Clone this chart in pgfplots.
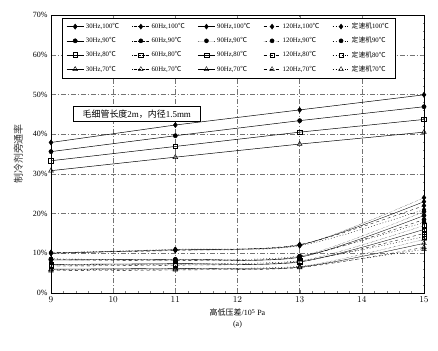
\documentclass[border=0pt]{standalone}
\usepackage{pgfplots}
\pgfplotsset{compat=1.18}
\usepackage{fontspec}
\setmainfont{Liberation Serif}
\newfontfamily\cjk{Noto Sans CJK SC}
\pgfplotsset{
  m100/.style={mark=diamond*, mark size=2.6pt, mark options={solid, fill=black}},
  m90/.style={mark=*, mark size=2.1pt, mark options={solid, fill=black}},
  m80/.style={mark=square, mark size=2.3pt, mark options={solid, fill=white}},
  m70/.style={mark=triangle, mark size=2.7pt, mark options={solid, fill=white}},
  f30/.style={black, line width=0.5pt, solid},
  f60/.style={black, line width=0.35pt, densely dotted, smooth, tension=0.45},
  f90/.style={black, line width=0.35pt, solid, smooth, tension=0.45},
  f120/.style={black, line width=0.35pt, dashed, smooth, tension=0.45},
  fC/.style={black, line width=0.35pt, dash pattern=on 1pt off 2pt, smooth, tension=0.45},
}
\begin{document}
\begin{tikzpicture}
\begin{axis}[
  scale only axis,
  width=373bp, height=278bp,
  xmin=9, xmax=15, ymin=0, ymax=70,
  xtick={9,10,...,15},
  ytick={0,10,...,70},
  yticklabels={0\%,10\%,20\%,30\%,40\%,50\%,60\%,70\%},
  minor x tick num=4, minor y tick num=4,
  tick align=inside,
  major tick length=3pt, minor tick length=1.5pt,
  xticklabel style={font=\small},
  yticklabel style={font=\footnotesize},
  grid=major,
  major grid style={black!55, line width=0.35pt, dash pattern=on 5pt off 2pt on 1pt off 2pt},
  axis line style={black, line width=0.5pt},
  ylabel={\cjk 制冷剂旁通率},
  ylabel style={font=\normalsize, black!80, yshift=3bp},
  xlabel={{\cjk 高低压差}/10\textsuperscript{5} Pa\\[1pt](a)},
  xlabel style={align=center, font=\footnotesize},
  legend columns=5,
  legend cell align=left,
  legend style={at={(0.03,0.99)}, anchor=north west, draw=black, line width=0.5pt,
    fill=white, font=\fontsize{6.8}{7.5}\selectfont, row sep=3pt,
    /tikz/every even column/.append style={column sep=11pt},
    inner xsep=4pt, inner ysep=3pt},
  legend image code/.code={
    \draw[mark repeat=2,mark phase=2] plot coordinates {(0cm,0cm) (0.3cm,0cm) (0.6cm,0cm)};
  },
]
% ---- 100 C row
\addplot[f30, m100] coordinates {(9,37.9) (11,42.3) (13,46.1) (15,49.9)};
\addlegendentry{30Hz,100{\cjk ℃}}
\addplot[f60, m100] coordinates {(9,10.0) (11,10.8) (13,12.0) (15,24.0)};
\addlegendentry{60Hz,100{\cjk ℃}}
\addplot[f90, m100] coordinates {(9,10.0) (11,10.9) (13,12.1) (15,23.0)};
\addlegendentry{90Hz,100{\cjk ℃}}
\addplot[f120, m100] coordinates {(9,10.2) (11,10.7) (13,12.2) (15,22.0)};
\addlegendentry{120Hz,100{\cjk ℃}}
\addplot[fC, m100] coordinates {(9,10.1) (11,11.0) (13,11.9) (15,21.0)};
\addlegendentry{{\cjk 定速机}100{\cjk ℃}}
% ---- 90 C row
\addplot[f30, m90] coordinates {(9,35.6) (11,39.6) (13,43.4) (15,46.9)};
\addlegendentry{30Hz,90{\cjk ℃}}
\addplot[f60, m90] coordinates {(9,8.5) (11,8.3) (13,9.2) (15,20.5)};
\addlegendentry{60Hz,90{\cjk ℃}}
\addplot[f90, m90] coordinates {(9,8.3) (11,8.5) (13,9.0) (15,19.5)};
\addlegendentry{90Hz,90{\cjk ℃}}
\addplot[f120, m90] coordinates {(9,8.4) (11,8.2) (13,9.1) (15,18.5)};
\addlegendentry{120Hz,90{\cjk ℃}}
\addplot[fC, m90] coordinates {(9,8.6) (11,8.4) (13,9.3) (15,17.8)};
\addlegendentry{{\cjk 定速机}90{\cjk ℃}}
% ---- 80 C row
\addplot[f30, m80] coordinates {(9,33.3) (11,36.9) (13,40.5) (15,43.7)};
\addlegendentry{30Hz,80{\cjk ℃}}
\addplot[f60, m80] coordinates {(9,7.0) (11,7.2) (13,8.0) (15,17.0)};
\addlegendentry{60Hz,80{\cjk ℃}}
\addplot[f90, m80] coordinates {(9,7.2) (11,7.4) (13,7.8) (15,16.0)};
\addlegendentry{90Hz,80{\cjk ℃}}
\addplot[f120, m80] coordinates {(9,6.8) (11,7.0) (13,7.9) (15,15.0)};
\addlegendentry{120Hz,80{\cjk ℃}}
\addplot[fC, m80] coordinates {(9,7.1) (11,7.3) (13,8.1) (15,14.2)};
\addlegendentry{{\cjk 定速机}80{\cjk ℃}}
% ---- 70 C row
\addplot[f30, m70] coordinates {(9,30.8) (11,34.2) (13,37.5) (15,40.5)};
\addlegendentry{30Hz,70{\cjk ℃}}
\addplot[f60, m70] coordinates {(9,5.8) (11,6.0) (13,6.6) (15,13.5)};
\addlegendentry{60Hz,70{\cjk ℃}}
\addplot[f90, m70] coordinates {(9,6.0) (11,6.2) (13,6.5) (15,12.5)};
\addlegendentry{90Hz,70{\cjk ℃}}
\addplot[f120, m70] coordinates {(9,5.6) (11,5.8) (13,6.4) (15,11.5)};
\addlegendentry{120Hz,70{\cjk ℃}}
\addplot[fC, m70] coordinates {(9,5.9) (11,6.1) (13,6.7) (15,11.0)};
\addlegendentry{{\cjk 定速机}70{\cjk ℃}}
% annotation box
\node[draw=black, line width=0.5pt, fill=white, inner xsep=9pt, inner ysep=3.5pt,
  font=\small] at (axis cs:10.38,45.1)
  {{\cjk 毛细管长度}2m{\cjk ，内径}1.5mm};
\end{axis}
\path ([xshift=-51bp,yshift=-58bp]current axis.south west)
  rectangle ([xshift=14bp,yshift=15bp]current axis.north east);
\end{tikzpicture}
\end{document}
